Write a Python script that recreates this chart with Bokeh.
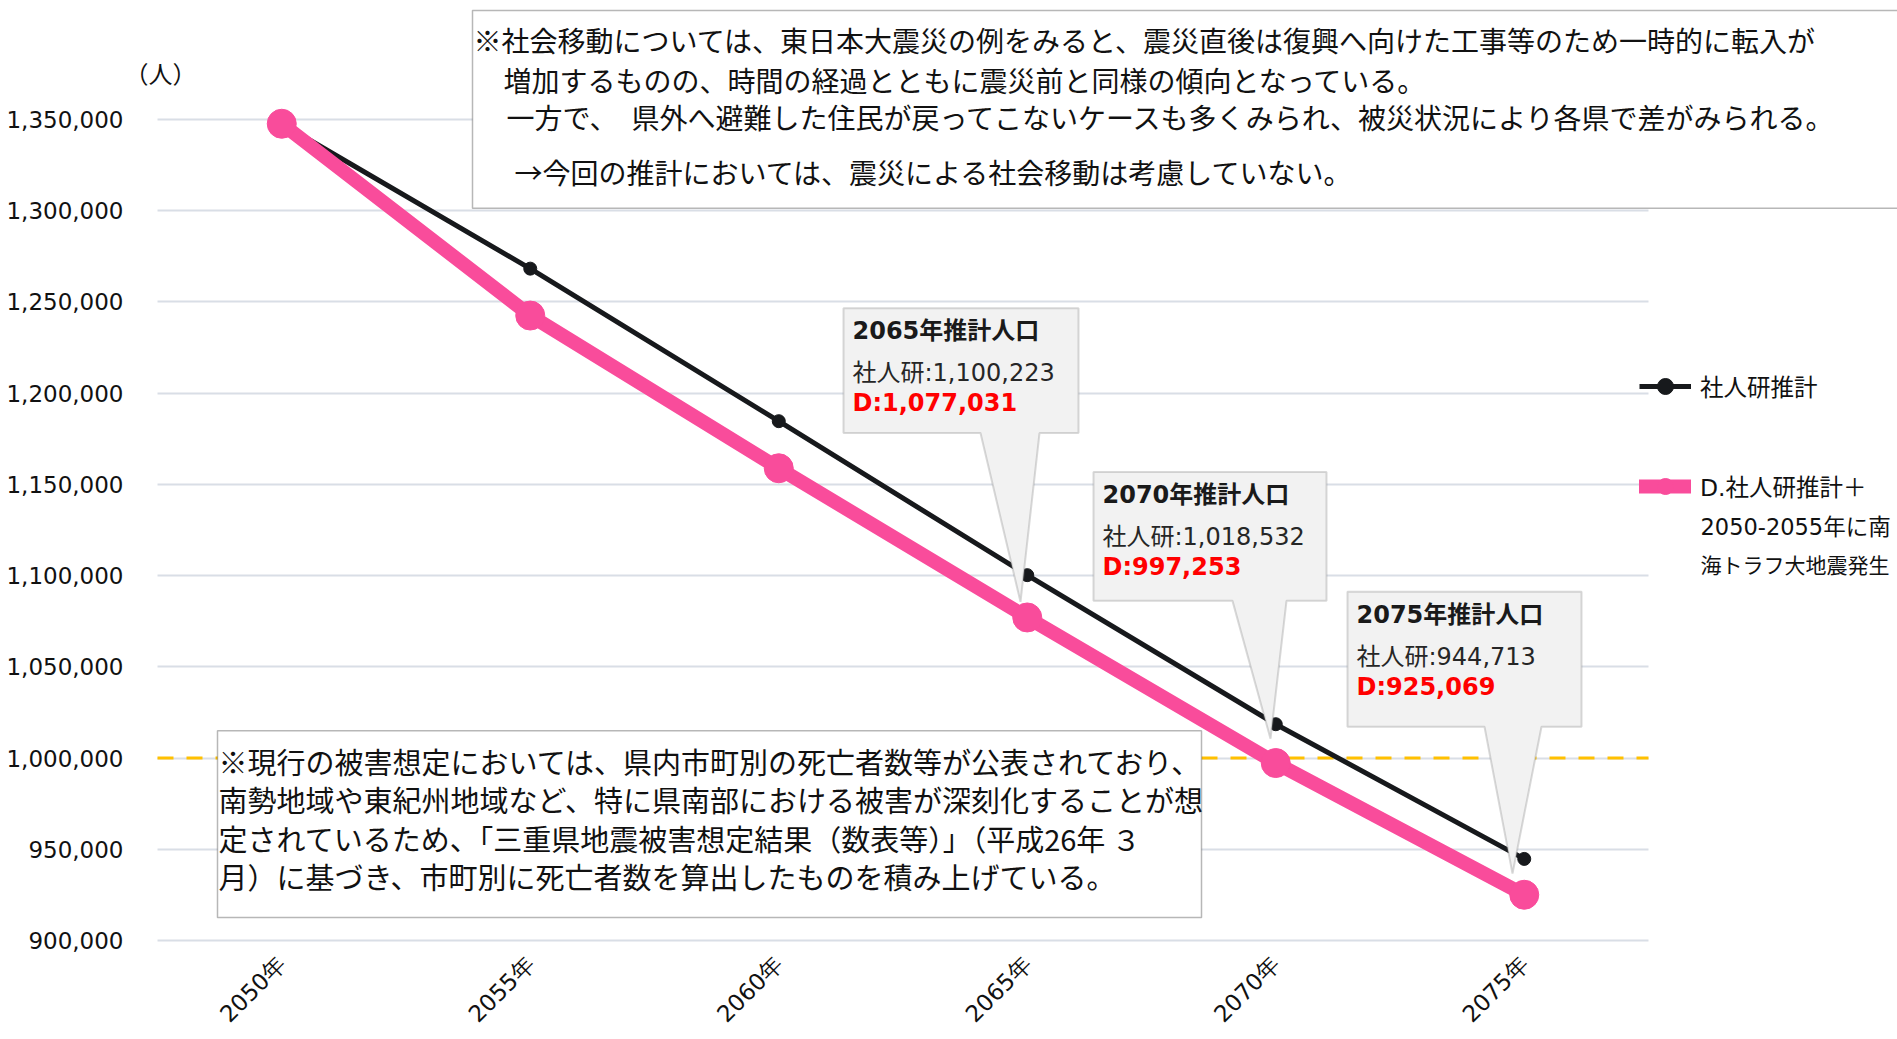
import math
from bokeh.plotting import figure
from bokeh.models import (Range1d, FixedTicker, NumeralTickFormatter, Label, BoxAnnotation,
                          PolyAnnotation, Legend, LegendItem)
from bokeh.embed import file_html
from bokeh.resources import INLINE

# ---------------- data ----------------
years = [2050, 2055, 2060, 2065, 2070, 2075]
year_labels = ["2050年", "2055年", "2060年", "2065年", "2070年", "2075年"]
ipss = [1347600, 1268200, 1184600, 1100223, 1018532, 944713]        # 社人研推計
scen_d = [1347600, 1242500, 1158800, 1077031, 997253, 925069]       # D.社人研推計＋南海トラフ
y_ticks = [900000, 950000, 1000000, 1050000, 1100000, 1150000, 1200000, 1250000, 1300000, 1350000]
threshold = 1000000
series_names = ["社人研推計", "D.社人研推計＋"]
legend_extra = ["2050-2055年に南", "海トラフ大地震発生"]
unit_label = "（人）"
callout_years = [2065, 2070, 2075]
top_note = [
    "※社会移動については、東日本大震災の例をみると、震災直後は復興へ向けた工事等のため一時的に転入が",
    "増加するものの、時間の経過とともに震災前と同様の傾向となっている。",
    "一方で、　県外へ避難した住民が戻ってこないケースも多くみられ、被災状況により各県で差がみられる。",
    "→今回の推計においては、震災による社会移動は考慮していない。",
]
bottom_note = [
    "※現行の被害想定においては、県内市町別の死亡者数等が公表されており、",
    "南勢地域や東紀州地域など、特に県南部における被害が深刻化することが想",
    "定されているため、「三重県地震被害想定結果（数表等）」（平成26年 ３",
    "月）に基づき、市町別に死亡者数を算出したものを積み上げている。",
]

# ---------------- layout helpers (image pixel -> data) ----------------
MARGIN = 0
W, H = 1897, 1039
IMG_FRAME_LEFT, IMG_FRAME_RIGHT = 130, W
IMG_FRAME_TOP, IMG_FRAME_BOTTOM = 0, 943
IMG_X_FIRST, PX_PER_YEAR = 281.25, 49.7
IMG_Y_TOPTICK, IMG_Y_BOTTICK = 119, 941


def xd(px):
    return years[0] + (px - IMG_X_FIRST) / PX_PER_YEAR


def yd(py):
    return y_ticks[-1] - (py - IMG_Y_TOPTICK) * (y_ticks[-1] - y_ticks[0]) / (IMG_Y_BOTTICK - IMG_Y_TOPTICK)


X_LEFT = years[0] - 2.5
X_RIGHT = years[-1] + 2.5

LJ = "DejaVu Sans, Noto Sans CJK JP"
JP = "Noto Sans CJK JP"
BLACK = "#17191c"
PINK = "#F94C9B"

p = figure(width=W, height=H,
           x_range=Range1d(xd(IMG_FRAME_LEFT), xd(IMG_FRAME_RIGHT)),
           y_range=Range1d(yd(IMG_FRAME_BOTTOM), yd(IMG_FRAME_TOP)),
           output_backend="svg", toolbar_location=None,
           min_border_left=IMG_FRAME_LEFT - MARGIN, min_border_right=0, min_border_top=0,
           min_border_bottom=H - (IMG_FRAME_BOTTOM - MARGIN))
p.outline_line_color = None
p.background_fill_color = "white"
p.border_fill_color = "white"

# axes
p.yaxis.ticker = FixedTicker(ticks=y_ticks)
p.yaxis.formatter = NumeralTickFormatter(format="0,0")
p.yaxis.axis_line_color = None
p.yaxis.major_tick_line_color = None
p.yaxis.minor_tick_line_color = None
p.yaxis.major_tick_out = 0
p.yaxis.minor_tick_out = 0
p.yaxis.major_label_text_font = LJ
p.yaxis.major_label_text_font_size = "23px"
p.yaxis.major_label_text_color = "#111111"
p.yaxis.major_label_standoff = 7

p.xaxis.ticker = FixedTicker(ticks=years)
p.xaxis.major_label_overrides = {y: l for y, l in zip(years, year_labels)}
p.xaxis.axis_line_color = None
p.xaxis.major_tick_line_color = None
p.xaxis.minor_tick_line_color = None
p.xaxis.major_tick_out = 0
p.xaxis.minor_tick_out = 0
p.xaxis.major_label_orientation = math.pi / 4
p.xaxis.major_label_text_font = "DejaVu Sans"
p.xaxis.major_label_text_font_size = "23px"
p.xaxis.major_label_text_color = "#111111"
p.xaxis.major_label_standoff = 18

# grid
p.xgrid.visible = False
p.ygrid.grid_line_color = "#D9DEE6"
p.ygrid.grid_line_width = 2
try:
    p.ygrid.cross_bounds = (X_LEFT, X_RIGHT)
except Exception:
    p.ygrid.visible = False
    p.segment(x0=[X_LEFT] * len(y_ticks), x1=[X_RIGHT] * len(y_ticks), y0=y_ticks, y1=y_ticks,
              line_color="#D9DEE6", line_width=2)

# threshold line
p.line([X_LEFT, X_RIGHT], [threshold, threshold], line_color="#FFC000", line_width=3,
       line_dash="16 13")

# series
r1 = p.line(years, ipss, line_color=BLACK, line_width=5, line_join="round")
r1p = p.scatter(years, ipss, size=13, fill_color=BLACK, line_color=BLACK)
r2 = p.line(years, scen_d, line_color=PINK, line_width=14, line_join="round", line_cap="round")
r2p = p.scatter(years, scen_d, size=29, fill_color=PINK, line_color=PINK)

# legend
legend = Legend(items=[LegendItem(label=series_names[0], renderers=[r1, r1p]),
                       LegendItem(label=series_names[1], renderers=[r2, r2p])],
                location=(1639 - IMG_FRAME_LEFT, IMG_FRAME_BOTTOM - 507),
                glyph_width=52, glyph_height=40, label_height=40, spacing=60,
                padding=0, margin=0, label_standoff=9,
                border_line_alpha=0, background_fill_alpha=0,
                label_text_font=LJ, label_text_font_size="23.5px", label_text_color="#111111")
p.add_layout(legend)
for i, (t, fs) in enumerate(zip(legend_extra, ["22.5px", "21px"])):
    p.add_layout(Label(x=xd(1700), y=yd(527 + 39 * i), text=t, text_font=LJ,
                       text_font_size=fs, text_color="#111111",
                       text_align="left", text_baseline="middle"))

# unit label
p.add_layout(Label(x=xd(160), y=yd(72), text=unit_label, text_font=JP, text_font_size="24px",
                   text_color="#111111", text_align="center", text_baseline="middle"))

# callouts (image pixel geometry: box L,T,R,B ; pointer base b1,b2 ; tip)
callouts = [
    dict(box=(843, 308, 1078, 433), base=(980, 1039), tip=(1020, 602)),
    dict(box=(1093, 472, 1326, 601), base=(1232, 1286), tip=(1270, 739)),
    dict(box=(1347, 592, 1581, 727), base=(1484, 1541), tip=(1512, 874)),
]
for cy, c in zip(callout_years, callouts):
    L, T, R, B = c["box"]
    b1, b2 = c["base"]
    tx, ty = c["tip"]
    xs = [xd(v) for v in (L, R, R, b2, tx, b1, L)]
    ys = [yd(v) for v in (T, T, B, B, ty, B, B)]
    p.add_layout(PolyAnnotation(xs=xs, ys=ys, fill_color="#F2F2F2", fill_alpha=1,
                                line_color="#808080", line_width=2))
    i = years.index(cy)
    p.add_layout(Label(x=xd(L + 9), y=yd(T + 23), text=f"{cy}年推計人口", text_font=LJ,
                       text_font_size="24px", text_font_style="bold", text_color="#1a1a1a",
                       text_baseline="middle"))
    p.add_layout(Label(x=xd(L + 9), y=yd(T + 65), text=f"社人研:{ipss[i]:,}", text_font=LJ,
                       text_font_size="24px", text_color="#262626", text_baseline="middle"))
    p.add_layout(Label(x=xd(L + 9), y=yd(T + 95), text=f"D:{scen_d[i]:,}", text_font=LJ,
                       text_font_size="24px", text_font_style="bold", text_color="#FF0000",
                       text_baseline="middle"))

# top note box
p.add_layout(BoxAnnotation(left=xd(472), right=xd(1960), top=yd(10), bottom=yd(208),
                           fill_color="white", fill_alpha=1, line_color="#111111", line_width=1.5))
for t, (lx, ly) in zip(top_note, [(473, 40), (503, 80), (506, 117), (514, 172)]):
    p.add_layout(Label(x=xd(lx), y=yd(ly), text=t, text_font=JP, text_font_size="28px",
                       text_color="#111111", text_baseline="middle"))

# bottom note box
p.add_layout(BoxAnnotation(left=xd(217), right=xd(1201), top=yd(731), bottom=yd(918),
                           fill_color="white", fill_alpha=1, line_color="#111111", line_width=1.5))
for k, t in enumerate(bottom_note):
    p.add_layout(Label(x=xd(218), y=yd(761 + 38.5 * k), text=t, text_font=JP,
                       text_font_size="29px", text_color="#111111", text_baseline="middle"))

open("out.html", "w").write(file_html(p, INLINE))
